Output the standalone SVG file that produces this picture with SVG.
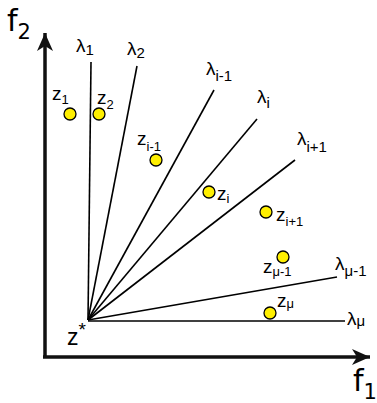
<svg xmlns="http://www.w3.org/2000/svg" width="377" height="403" viewBox="0 0 377 403">
<style>
.ax{stroke:#111;stroke-width:3.5;fill:none}
.ray{stroke:#000;stroke-width:1.6;fill:none}
.pt{fill:#ffef00;stroke:#000;stroke-width:1.3}
.t{font-family:"Liberation Sans",Arial,sans-serif;fill:#000}
.f{font-family:"DejaVu Sans",sans-serif;fill:#000}
.l{font-size:19px}
.ls{font-size:15px}
.z{font-size:19px}
.zs{font-size:13px}
</style>
<defs>
<marker id="ah" markerUnits="userSpaceOnUse" markerWidth="24" markerHeight="20" refX="20" refY="10" orient="auto">
<path d="M20,10 L2,2 L7,10 L2,18 Z" fill="#111"/>
</marker>
</defs>
<g id="axes">
<path class="ax" d="M45,357 L45,33" marker-end="url(#ah)"/>
<path class="ax" d="M43,357 L370,357" marker-end="url(#ah)"/>
<text class="f" x="7" y="31" font-size="30">f<tspan font-size="21" dy="8">2</tspan></text>
<text class="f" x="353" y="391" font-size="30">f<tspan font-size="21" dy="8">1</tspan></text>
</g>
<g id="connectors">
<line class="ray" x1="88" y1="320" x2="91" y2="62"/>
<line class="ray" x1="88" y1="320" x2="137" y2="66"/>
<line class="ray" x1="88" y1="320" x2="214" y2="90"/>
<line class="ray" x1="88" y1="320" x2="257" y2="119"/>
<line class="ray" x1="88" y1="320" x2="295" y2="160"/>
<line class="ray" x1="88" y1="320" x2="337" y2="277"/>
<line class="ray" x1="88" y1="321" x2="345" y2="321"/>
</g>
<g id="lambda-labels">
<text class="t l" x="76" y="52">λ<tspan class="ls" dy="3">1</tspan></text>
<text class="t l" x="127" y="55">λ<tspan class="ls" dy="3">2</tspan></text>
<text class="t l" x="206" y="75">λ<tspan class="ls" dy="6">i-1</tspan></text>
<text class="t l" x="257" y="103">λ<tspan class="ls" dy="5">i</tspan></text>
<text class="t l" x="297" y="145">λ<tspan class="ls" dy="7">i+1</tspan></text>
<text class="t l" x="335" y="270">λ<tspan class="ls" dy="6">μ-1</tspan></text>
<text class="t l" x="347" y="325">λ<tspan class="ls" dy="1">μ</tspan></text>
</g>
<g id="z1"><circle class="pt" cx="70" cy="114" r="6"/><text class="t z" x="52" y="100">z<tspan class="zs" dy="4">1</tspan></text></g>
<g id="z2"><circle class="pt" cx="99" cy="114" r="6"/><text class="t z" x="97" y="104">z<tspan class="zs" dy="5">2</tspan></text></g>
<g id="zi-1"><circle class="pt" cx="156" cy="160" r="6"/><text class="t z" x="137" y="145">z<tspan class="zs" dy="6">i-1</tspan></text></g>
<g id="zi"><circle class="pt" cx="209" cy="192" r="6"/><text class="t z" x="217" y="200">z<tspan class="zs" dy="3">i</tspan></text></g>
<g id="zi+1"><circle class="pt" cx="266" cy="212" r="6"/><text class="t z" x="276" y="221">z<tspan class="zs" dy="5">i+1</tspan></text></g>
<g id="zmu-1"><circle class="pt" cx="283" cy="257" r="6"/><text class="t z" x="263" y="273">z<tspan class="zs" dy="3">μ-1</tspan></text></g>
<g id="zmu"><circle class="pt" cx="270" cy="313" r="6"/><text class="t z" x="277" y="307">z<tspan class="zs" dy="1">μ</tspan></text></g>
<g id="zstar"><text class="t" x="67" y="345" font-size="23">z<tspan font-size="19" dy="-9">*</tspan></text></g>
</svg>
